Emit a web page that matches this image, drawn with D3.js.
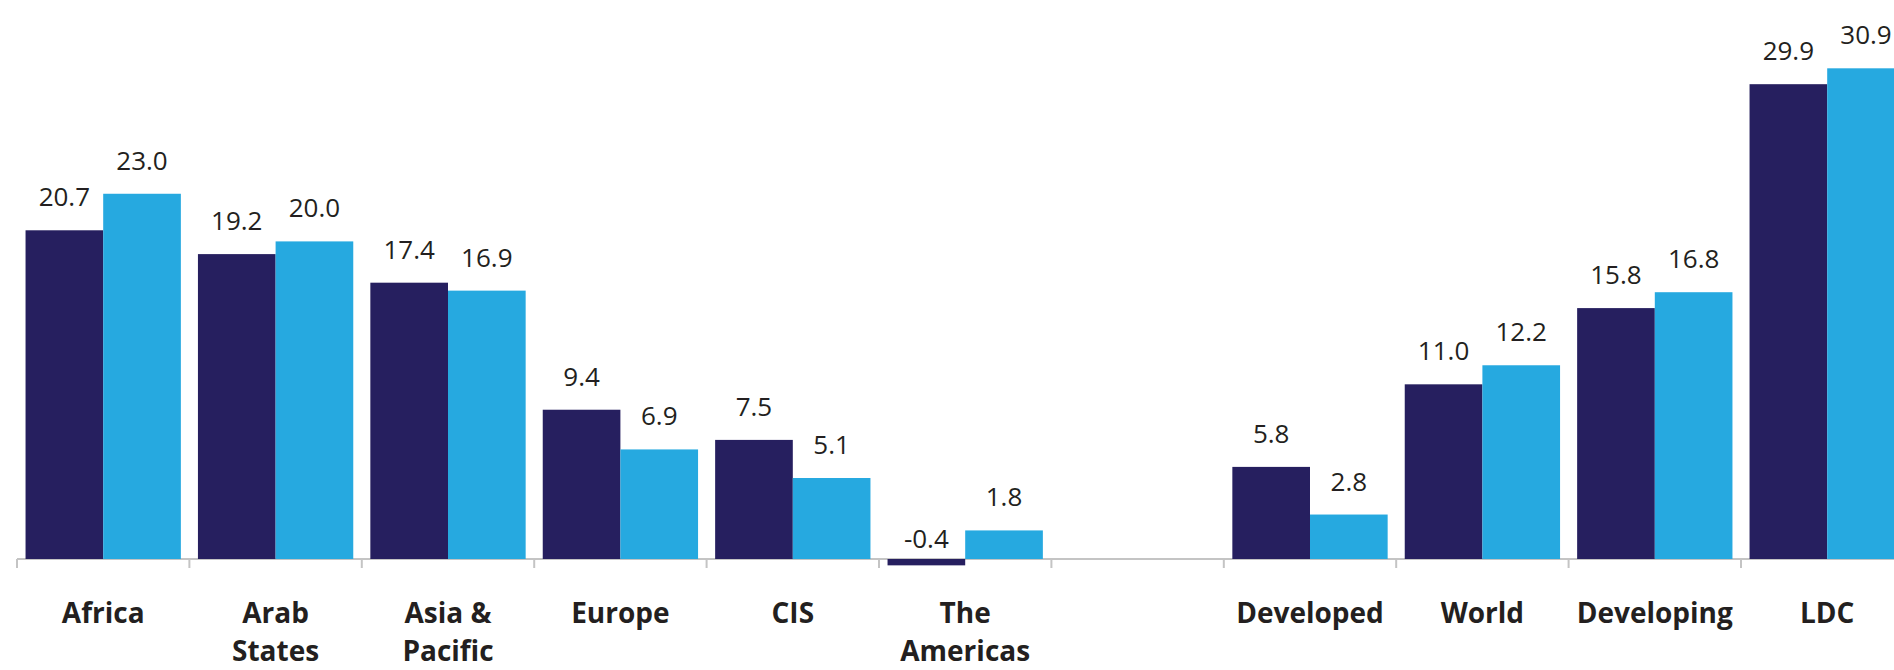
<!DOCTYPE html>
<html>
<head>
<meta charset="utf-8">
<script src="https://cdn.jsdelivr.net/npm/d3@7"></script>
<style>
    html, body { margin: 0; padding: 0; background: #fff; }
    svg { display: block; }
    .value { font-family: "Open Sans", sans-serif; font-size: 26px; fill: #231f20; }
    .cat { font-family: "Open Sans", sans-serif; font-size: 28px; font-weight: 700; fill: #231f20; }
</style>
</head>
<body>
<svg id="chart"></svg>
<script>
// categories (blank slot separates regions from groupings)
const categories = ["Africa", "Arab\nStates", "Asia &\nPacific", "Europe", "CIS", "The\nAmericas", "", "Developed", "World", "Developing", "LDC"];
const series = ["first", "second"];
const firstValues = [20.7, 19.2, 17.4, 9.4, 7.5, -0.4, null, 5.8, 11.0, 15.8, 29.9];
const secondValues = [23.0, 20.0, 16.9, 6.9, 5.1, 1.8, null, 2.8, 12.2, 16.8, 30.9];
const colors = ["#261f5f", "#26a9e0"];

const width = 1894, height = 670;
const svg = d3.select("#chart")
        .attr("width", width)
        .attr("height", height);

let rows = categories.map((c, i) => ({ cat: c, values: [firstValues[i], secondValues[i]] }));

let x0 = d3.scaleBand()
        .domain(categories)
        .range([17, 17 + 172.4 * categories.length]);

let x1 = d3.scaleBand()
        .domain(series)
        .range([0, x0.bandwidth()])
        .paddingOuter(0.11);

let y = d3.scaleLinear()
        .domain([0, 30])
        .range([559, 82.6]);

// axis line along zero with ticks at band edges
let axis = svg.append("g").attr("class", "axis");
axis.append("line")
        .attr("x1", x0.range()[0]).attr("x2", width)
        .attr("y1", y(0)).attr("y2", y(0))
        .attr("stroke", "#c4c4c4").attr("stroke-width", 2);
axis.selectAll("line.tick")
        .data(categories)
        .enter().append("line")
                .attr("class", "tick")
                .attr("x1", d => x0(d)).attr("x2", d => x0(d))
                .attr("y1", y(0)).attr("y2", y(0) + 9)
                .attr("stroke", "#c4c4c4").attr("stroke-width", 2);

let groups = svg.selectAll("g.group")
        .data(rows)
        .enter().append("g")
                .attr("class", "group")
                .attr("transform", d => `translate(${x0(d.cat)}, 0)`);

let cells = groups.selectAll("g.cell")
        .data(d => d.values.map((v, i) => ({ key: series[i], v: v, i: i })).filter(d => d.v !== null))
        .enter().append("g")
                .attr("class", "cell");

cells.append("rect")
        .attr("x", d => x1(d.key))
        .attr("width", x1.bandwidth())
        .attr("y", d => y(Math.max(0, d.v)))
        .attr("height", d => Math.abs(y(d.v) - y(0)))
        .attr("fill", d => colors[d.i]);

cells.append("text")
        .attr("class", "value")
        .attr("text-anchor", "middle")
        .attr("x", d => x1(d.key) + x1.bandwidth() / 2)
        .attr("y", d => d.v < 0 ? y(0) - 11 : y(d.v) - 24)
        .text(d => d.v.toFixed(1));

// category labels, wrapped on explicit line breaks
let labels = svg.selectAll("text.cat")
        .data(categories.filter(c => c !== ""))
        .enter().append("text")
                .attr("class", "cat")
                .attr("text-anchor", "middle")
                .attr("x", d => x0(d) + x0.bandwidth() / 2)
                .attr("y", 623);
labels.each(function(d) {
        d.split("\n").forEach((line, i) => {
                d3.select(this).append("tspan")
                        .attr("x", x0(d) + x0.bandwidth() / 2)
                        .attr("dy", i === 0 ? 0 : 38)
                        .text(line);
        });
});
</script>
</body>
</html>
